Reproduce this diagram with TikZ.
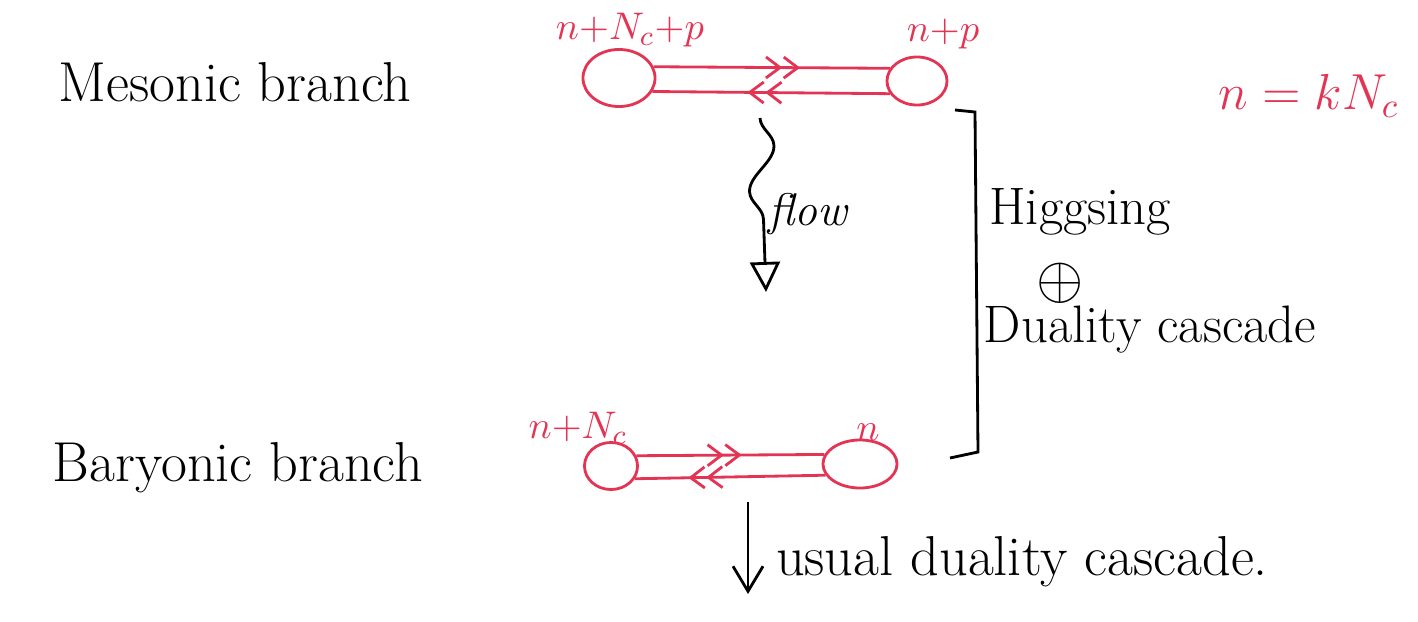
\documentclass[tikz,border=0pt]{standalone}
\usepackage{amsmath}
\usepackage{amssymb}
\usepackage{tikz}
\usetikzlibrary{shapes.geometric}
\usetikzlibrary{arrows.meta}
\usetikzlibrary{decorations.pathmorphing,decorations.markings}
\definecolor{inkred}{RGB}{227,52,84}

\begin{document}
\begin{tikzpicture}[x=0.01cm, y=-0.01cm,
    every node/.style={font=\fontsize{16}{19}\selectfont},
    every path/.style={thick},
    gauge/.style={ellipse, draw=inkred, thick, inner sep=0pt},
    rank/.style={text=inkred, font=\fontsize{11}{13}\selectfont},
    bifund/.style={draw=inkred, postaction={decorate}, decoration={markings,
        mark=at position #1 with {\arrow[inkred]{Straight Barb[length=1.4mm,width=2.1mm]Straight Barb[length=1.4mm,width=2.1mm]}}}}]

    \useasboundingbox (0,0) rectangle (1418,621);

    \node (meso) at (235,82) {Mesonic branch};
    \node (bary) at (238,468) {Baryonic branch};
    \node[text=inkred, font=\fontsize{14}{16}\selectfont, anchor=east] (rel) at (1412,96) {$n=kN_c$};

    \node[gauge, minimum width=0.72cm, minimum height=0.57cm] (mesL) at (619,78) {};
    \node[gauge, minimum width=0.60cm, minimum height=0.48cm] (mesR) at (917,81) {};
    \node[rank] (mesLlab) at (630,30) {$n{+}N_c{+}p$};
    \node[rank] (mesRlab) at (943,34) {$n{+}p$};

    \node[gauge, minimum width=0.53cm, minimum height=0.47cm] (barL) at (611,466) {};
    \node[gauge, minimum width=0.74cm, minimum height=0.48cm] (barR) at (860,464) {};
    \node[rank] (barLlab) at (578,428) {$n{+}N_c$};
    \node[rank] (barRlab) at (868,432) {$n$};

    \draw[bifund=0.62] (mesL.18) -- (mesR.155);
    \draw[bifund=0.60] (mesR.205) -- (mesL.-22);
    \draw[bifund=0.56] (barL.22) -- (barR.165);
    \draw[bifund=0.72] (barR.198) -- (barL.-28);

    \coordinate (flowS) at (760,118);
    \coordinate (flowE) at (766,292);
    \draw[-{Triangle[open,length=3mm,width=3mm]}, decorate,
        decoration={snake, amplitude=0.13cm, segment length=0.9cm, post length=0.45cm}] (flowS) -- (flowE);
    \node[font=\fontsize{13}{15}\selectfont\itshape] (flow) at (808,214) {flow};

    \draw (955,110) -- (975,112) -- (978,452) -- (950,458);
    \node[font=\fontsize{15}{18}\selectfont] (higgs) at (1080,212) {Higgsing};
    \node (plus) at (1060,283) {$\oplus$};
    \node[font=\fontsize{15}{18}\selectfont] (dcasc) at (1150,330) {Duality cascade};

    \coordinate (usualS) at (748,502);
    \coordinate (usualE) at (748,594);
    \draw[-{Straight Barb[length=2.5mm,width=3mm]}] (usualS) -- (usualE);
    \node (usual) at (1022,562) {usual duality cascade.};
\end{tikzpicture}
\end{document}
